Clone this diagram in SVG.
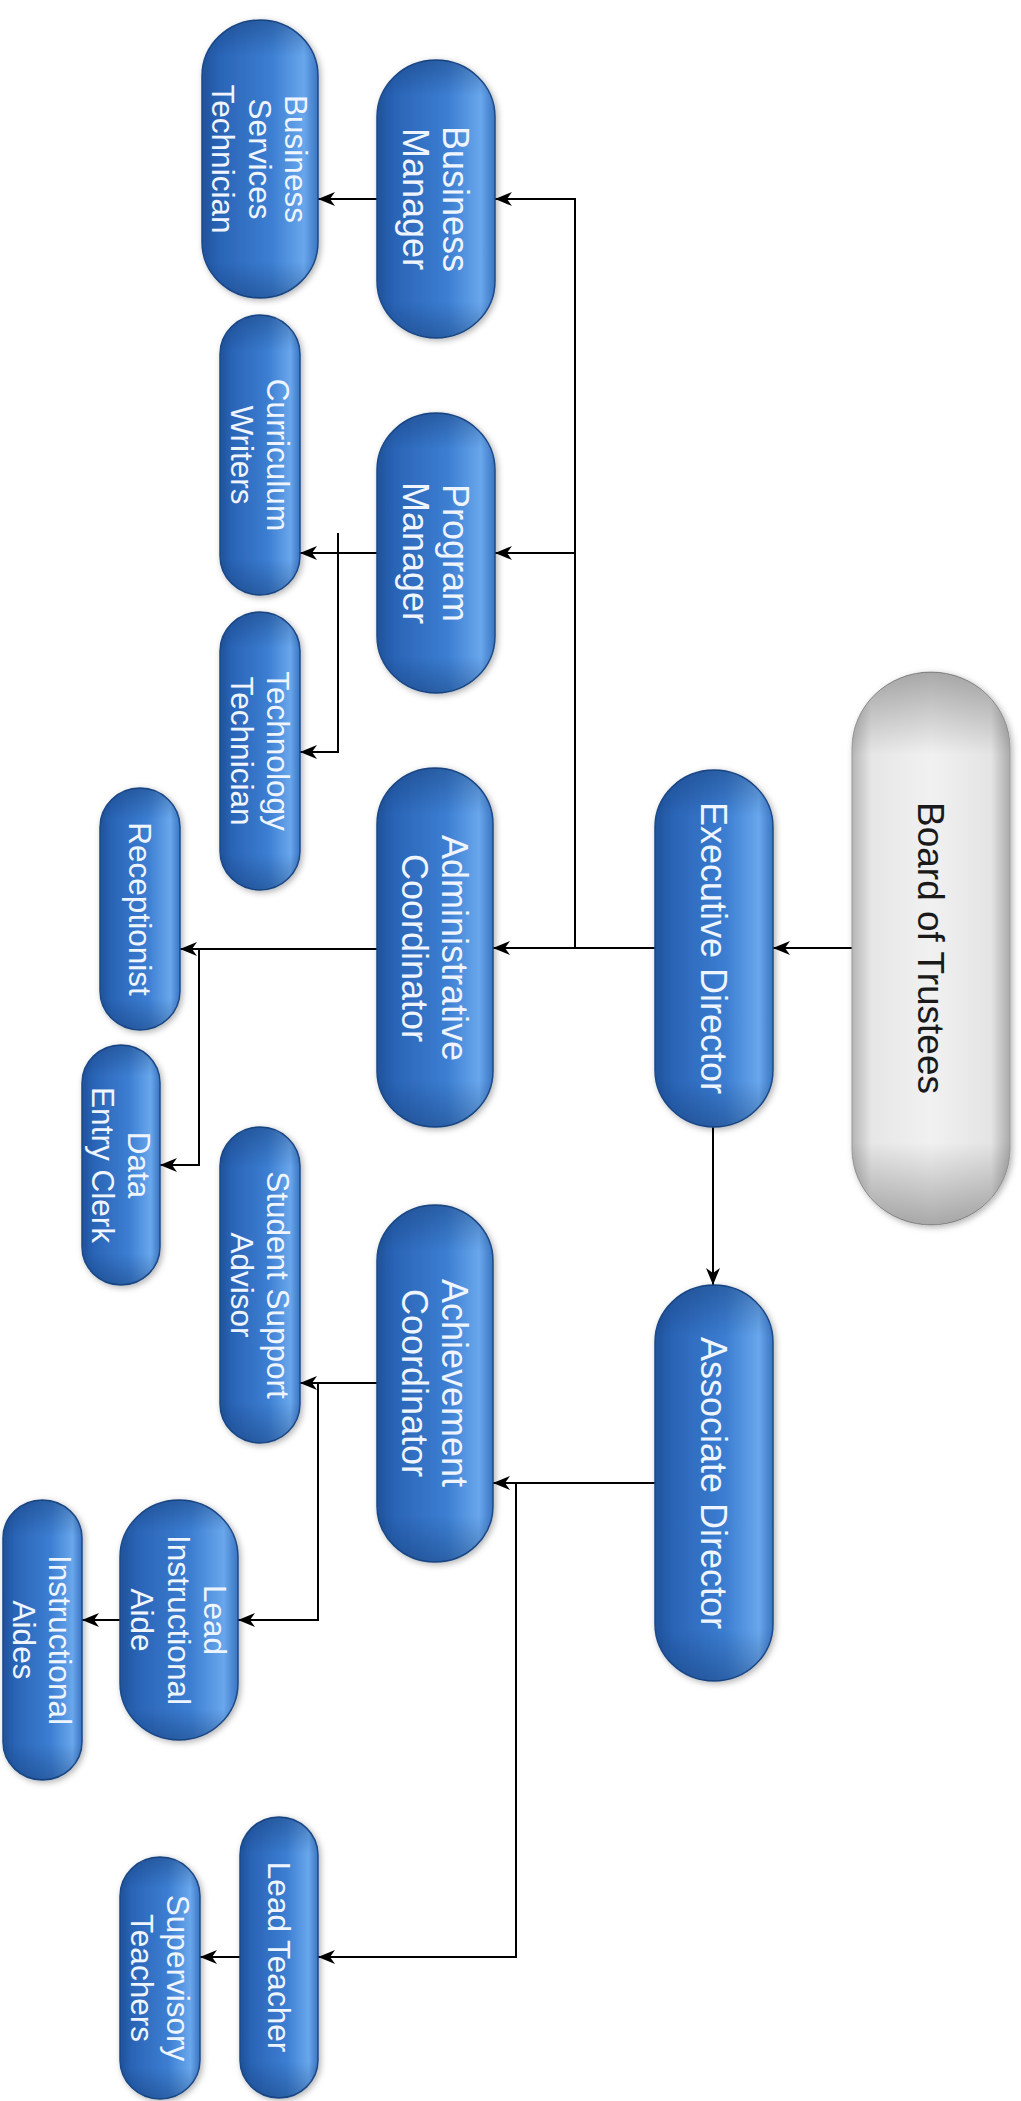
<svg xmlns="http://www.w3.org/2000/svg" width="1021" height="2101" viewBox="0 0 1021 2101">
<style>
.pill{fill:url(#blue);stroke:#1c4a88;stroke-width:1.5;filter:url(#sh)}
.ov{fill:url(#ends);stroke:none}
.gpill{fill:url(#gray);stroke:#9a9a9a;stroke-width:1;filter:url(#sh)}
.gov{fill:url(#gends);stroke:none}
.big{font-family:"Liberation Sans",Arial,sans-serif;font-size:36px;fill:#eef5ff;text-anchor:middle}
.sm{font-family:"Liberation Sans",Arial,sans-serif;font-size:31.5px;fill:#eef5ff;text-anchor:middle}
.brd{font-family:"Liberation Sans",Arial,sans-serif;font-size:37px;fill:#1a1a1a;text-anchor:middle}
.con{fill:none;stroke:#000;stroke-width:2;marker-end:url(#arr)}
</style>
<defs>
<linearGradient id="blue" x1="0" y1="0" x2="1" y2="0">
<stop offset="0" stop-color="#1f529a"/>
<stop offset="0.15" stop-color="#2a64b6"/>
<stop offset="0.6" stop-color="#3c7ed2"/>
<stop offset="0.88" stop-color="#69a7ec"/>
<stop offset="1" stop-color="#3a74c2"/>
</linearGradient>
<linearGradient id="ends" x1="0" y1="0" x2="0" y2="1">
<stop offset="0" stop-color="#0a2a5a" stop-opacity="0.35"/>
<stop offset="0.13" stop-color="#0a2a5a" stop-opacity="0"/>
<stop offset="0.87" stop-color="#0a2a5a" stop-opacity="0"/>
<stop offset="1" stop-color="#0a2a5a" stop-opacity="0.35"/>
</linearGradient>
<linearGradient id="gray" x1="0" y1="0" x2="1" y2="0">
<stop offset="0" stop-color="#b5b5b5"/>
<stop offset="0.12" stop-color="#e6e6e6"/>
<stop offset="0.5" stop-color="#f1f1f1"/>
<stop offset="0.88" stop-color="#e4e4e4"/>
<stop offset="1" stop-color="#aaaaaa"/>
</linearGradient>
<linearGradient id="gends" x1="0" y1="0" x2="0" y2="1">
<stop offset="0" stop-color="#000" stop-opacity="0.3"/>
<stop offset="0.15" stop-color="#000" stop-opacity="0"/>
<stop offset="0.85" stop-color="#000" stop-opacity="0"/>
<stop offset="1" stop-color="#000" stop-opacity="0.3"/>
</linearGradient>
<filter id="sh" x="-20%" y="-10%" width="140%" height="120%">
<feDropShadow dx="2" dy="2" stdDeviation="3" flood-color="#000" flood-opacity="0.3"/>
</filter>
<marker id="arr" viewBox="0 -8 18 16" refX="17" refY="0" markerWidth="18" markerHeight="16" markerUnits="userSpaceOnUse" orient="auto">
<path d="M17,0 L0,-7 L5,0 L0,7 Z" fill="#000"/>
</marker>
</defs>

<g id="connectors">
<path class="con" d="M852,948 H773"/>
<path class="con" d="M655,948 H493"/>
<path class="con" d="M575,948 V199 H495"/>
<path class="con" d="M575,553 H495"/>
<path class="con" d="M377,199 H318"/>
<path class="con" d="M377,553 H300"/>
<path class="con" d="M338,533 V752 H300"/>
<path class="con" d="M377,949 H180"/>
<path class="con" d="M199,949 V1165 H160"/>
<path class="con" d="M713,1127 V1285"/>
<path class="con" d="M655,1483 H493"/>
<path class="con" d="M516,1483 V1957 H318"/>
<path class="con" d="M377,1383 H300"/>
<path class="con" d="M318,1383 V1620 H238"/>
<path class="con" d="M120,1620 H82"/>
<path class="con" d="M240,1957 H200"/>
</g>

<g id="board">
<rect class="gpill" x="852" y="672" width="158" height="553" rx="79" ry="76"/>
<rect class="gov" x="852" y="672" width="158" height="553" rx="79" ry="76"/>
<text class="brd" transform="translate(931,948) rotate(90)" x="0" y="13">Board of Trustees</text>
</g>

<g id="exec">
<rect class="pill" x="655" y="770" width="118" height="357" rx="59" ry="57"/>
<rect class="ov" x="655" y="770" width="118" height="357" rx="59" ry="57"/>
<text class="big" transform="translate(714,948) rotate(90)" x="0" y="13">Executive Director</text>
</g>

<g id="assoc">
<rect class="pill" x="655" y="1285" width="118" height="396" rx="59" ry="57"/>
<rect class="ov" x="655" y="1285" width="118" height="396" rx="59" ry="57"/>
<text class="big" transform="translate(714,1483) rotate(90)" x="0" y="13">Associate Director</text>
</g>

<g id="bm">
<rect class="pill" x="377" y="60" width="118" height="278" rx="59" ry="57"/>
<rect class="ov" x="377" y="60" width="118" height="278" rx="59" ry="57"/>
<text class="big" transform="translate(436,199) rotate(90)"><tspan x="0" y="-7">Business</tspan><tspan x="0" y="33">Manager</tspan></text>
</g>

<g id="bst">
<rect class="pill" x="202" y="20" width="116" height="278" rx="58" ry="56"/>
<rect class="ov" x="202" y="20" width="116" height="278" rx="58" ry="56"/>
<text class="sm" transform="translate(260,159) rotate(90)"><tspan x="0" y="-25">Business</tspan><tspan x="0" y="11">Services</tspan><tspan x="0" y="48">Technician</tspan></text>
</g>

<g id="pm">
<rect class="pill" x="377" y="413" width="118" height="280" rx="59" ry="57"/>
<rect class="ov" x="377" y="413" width="118" height="280" rx="59" ry="57"/>
<text class="big" transform="translate(436,553) rotate(90)"><tspan x="0" y="-7">Program</tspan><tspan x="0" y="33">Manager</tspan></text>
</g>

<g id="cw">
<rect class="pill" x="220" y="315" width="80" height="280" rx="40" ry="39"/>
<rect class="ov" x="220" y="315" width="80" height="280" rx="40" ry="39"/>
<text class="sm" transform="translate(260,455) rotate(90)"><tspan x="0" y="-7">Curriculum</tspan><tspan x="0" y="29.5">Writers</tspan></text>
</g>

<g id="tt">
<rect class="pill" x="220" y="612" width="80" height="278" rx="40" ry="39"/>
<rect class="ov" x="220" y="612" width="80" height="278" rx="40" ry="39"/>
<text class="sm" transform="translate(260,751) rotate(90)"><tspan x="0" y="-7">Technology</tspan><tspan x="0" y="29.5">Technician</tspan></text>
</g>

<g id="admin">
<rect class="pill" x="377" y="768" width="116" height="359" rx="58" ry="56"/>
<rect class="ov" x="377" y="768" width="116" height="359" rx="58" ry="56"/>
<text class="big" transform="translate(435,948) rotate(90)"><tspan x="0" y="-7">Administrative</tspan><tspan x="0" y="33">Coordinator</tspan></text>
</g>

<g id="rec">
<rect class="pill" x="100" y="788" width="80" height="242" rx="40" ry="39"/>
<rect class="ov" x="100" y="788" width="80" height="242" rx="40" ry="39"/>
<text class="sm" transform="translate(140,909) rotate(90)" x="0" y="11">Receptionist</text>
</g>

<g id="dec">
<rect class="pill" x="82" y="1045" width="78" height="240" rx="39" ry="38"/>
<rect class="ov" x="82" y="1045" width="78" height="240" rx="39" ry="38"/>
<text class="sm" transform="translate(121,1165) rotate(90)"><tspan x="0" y="-7">Data</tspan><tspan x="0" y="29.5">Entry Clerk</tspan></text>
</g>

<g id="ssa">
<rect class="pill" x="220" y="1127" width="80" height="316" rx="40" ry="39"/>
<rect class="ov" x="220" y="1127" width="80" height="316" rx="40" ry="39"/>
<text class="sm" transform="translate(260,1285) rotate(90)"><tspan x="0" y="-7">Student Support</tspan><tspan x="0" y="29.5">Advisor</tspan></text>
</g>

<g id="ach">
<rect class="pill" x="377" y="1205" width="116" height="357" rx="58" ry="56"/>
<rect class="ov" x="377" y="1205" width="116" height="357" rx="58" ry="56"/>
<text class="big" transform="translate(435,1383) rotate(90)"><tspan x="0" y="-7">Achievement</tspan><tspan x="0" y="33">Coordinator</tspan></text>
</g>

<g id="lia">
<rect class="pill" x="120" y="1500" width="118" height="240" rx="59" ry="57"/>
<rect class="ov" x="120" y="1500" width="118" height="240" rx="59" ry="57"/>
<text class="sm" transform="translate(179,1620) rotate(90)"><tspan x="0" y="-25">Lead</tspan><tspan x="0" y="11">Instructional</tspan><tspan x="0" y="48">Aide</tspan></text>
</g>

<g id="ia">
<rect class="pill" x="3" y="1500" width="79" height="280" rx="39.5" ry="38"/>
<rect class="ov" x="3" y="1500" width="79" height="280" rx="39.5" ry="38"/>
<text class="sm" transform="translate(42,1640) rotate(90)"><tspan x="0" y="-7">Instructional</tspan><tspan x="0" y="29.5">Aides</tspan></text>
</g>

<g id="lt">
<rect class="pill" x="240" y="1817" width="78" height="281" rx="39" ry="38"/>
<rect class="ov" x="240" y="1817" width="78" height="281" rx="39" ry="38"/>
<text class="sm" transform="translate(279,1957) rotate(90)" x="0" y="11">Lead Teacher</text>
</g>

<g id="st">
<rect class="pill" x="120" y="1857" width="80" height="242" rx="40" ry="39"/>
<rect class="ov" x="120" y="1857" width="80" height="242" rx="40" ry="39"/>
<text class="sm" transform="translate(160,1978) rotate(90)"><tspan x="0" y="-7">Supervisory</tspan><tspan x="0" y="29.5">Teachers</tspan></text>
</g>
</svg>
